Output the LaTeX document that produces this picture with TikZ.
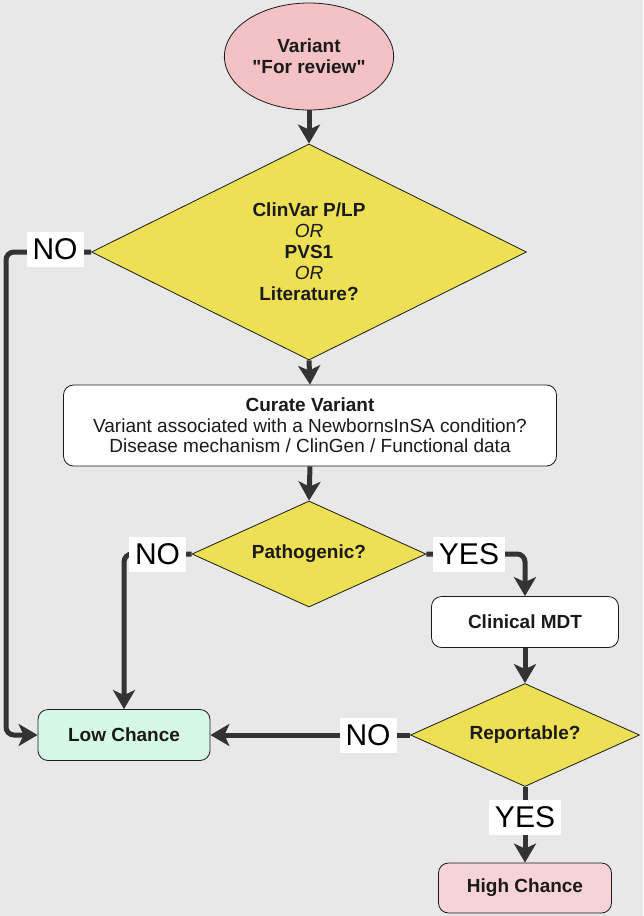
\documentclass[tikz,border=0pt]{standalone}
\usepackage{fontspec}
\setmainfont{Liberation Sans}
\newfontfamily\plainfont{Liberation Sans}
\usetikzlibrary{shapes.geometric,arrows.meta}

\definecolor{bggray}{HTML}{E7E8E7}
\definecolor{startpink}{HTML}{F4C2C5}
\definecolor{decyellow}{HTML}{EEE055}
\definecolor{lowgreen}{HTML}{D6F8E6}
\definecolor{highpink}{HTML}{F5D3D6}
\definecolor{linegray}{HTML}{333333}
\definecolor{textdark}{HTML}{1A1A1A}

\begin{document}
\begin{tikzpicture}[x=1pt,y=-1pt,
    decision/.style={diamond,aspect=2.2,draw=textdark,line width=0.8pt,fill=decyellow,inner sep=0pt,
        align=center,font=\fontsize{19}{21}\selectfont\bfseries,text=textdark},
    stepbox/.style={rectangle,rounded corners=10pt,draw=textdark,line width=0.8pt,fill=white,
        align=center,font=\fontsize{19}{20.5}\selectfont,text=textdark},
    answer/.style={fill=white,inner xsep=6pt,inner ysep=0pt,minimum height=35pt,
        font=\fontsize{30}{30}\selectfont,text=black},
    wire/.style={draw=linegray,line width=5pt},
    flow/.style={wire,-{Stealth[length=19pt,width=22pt,inset=5pt]}}]

    % Background
    \fill[bggray] (0,0) rectangle (643,916);

    % Start
    \node[ellipse,draw=textdark,line width=0.8pt,fill=startpink,minimum width=162pt,minimum height=107pt,
        align=center,font=\plainfont\fontsize{19}{21}\selectfont\bfseries,text=textdark] (start) at (309,56.5)
        {Variant\\"For review"};

    % Screening question
    \node[decision,minimum width=435pt,minimum height=216pt] (screen) at (309,252)
        {ClinVar P/LP\\\mdseries\itshape OR\\PVS1\\\mdseries\itshape OR\\Literature?};

    % Curation
    \node[stepbox,minimum width=493pt,minimum height=81pt] (curate) at (310,425.5)
        {\textbf{Curate Variant}\\Variant associated with a NewbornsInSA condition?\\Disease mechanism / ClinGen / Functional data};

    \node[decision,minimum width=234pt,minimum height=106pt] (patho) at (309,554) {Pathogenic?};
    \node[stepbox,font=\fontsize{19}{21}\selectfont\bfseries,minimum width=187pt,minimum height=51pt] (mdt) at (525,622) {Clinical MDT};
    \node[decision,minimum width=229pt,minimum height=103pt] (report) at (525,735) {Reportable?};

    % Outcomes
    \node[stepbox,fill=lowgreen,font=\fontsize{19}{21}\selectfont\bfseries,minimum width=172pt,minimum height=51pt] (low) at (124,735) {Low Chance};
    \node[stepbox,fill=highpink,font=\fontsize{19}{21}\selectfont\bfseries,minimum width=173pt,minimum height=50pt] (high) at (525,888) {High Chance};

    % Connectors
    \draw[flow] (start.south) -- (screen.north);
    \draw[flow] (screen.south) -- (curate.north);
    \draw[flow] (curate.south) -- (patho.north);
    \draw[flow,rounded corners=8pt] (screen.west) -- (6,252) |- (low.west);
    \draw[flow,rounded corners=8pt] (patho.west) -| (low.north);
    \draw[flow,rounded corners=8pt] (patho.east) -| (mdt.north);
    \draw[flow] (mdt.south) -- (report.north);
    \draw[flow] (report.west) -- (low.east);
    \draw[flow] (report.south) -- (high.north);

    % Answer labels
    \node[answer] (no1) at (55,249.5) {NO};
    \node[answer] (no2) at (157.5,554.5) {NO};
    \node[answer] (yes1) at (469,554.5) {YES};
    \node[answer] (no3) at (368,735.5) {NO};
    \node[answer] (yes2) at (525,817) {YES};
\end{tikzpicture}
\end{document}
